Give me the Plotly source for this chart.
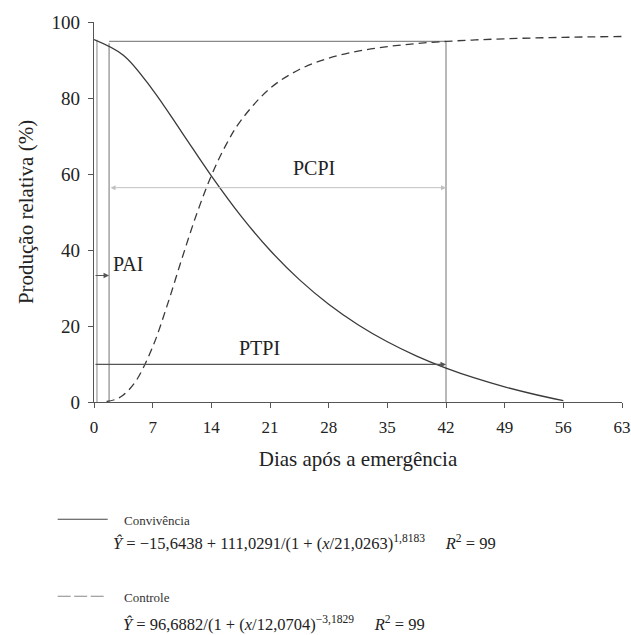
import plotly.graph_objects as go

# Convivência curve
conv_x = [0, 3.5, 7, 10.5, 14, 17.5, 21, 24.5, 28, 31.5, 35, 38.5, 42, 45.5, 49, 52.5, 56]
conv_y = [95.39, 91.28, 82.15, 70.90, 59.51, 49.05, 39.93, 32.20, 25.73, 20.34, 15.85, 12.09, 8.93, 6.26, 3.98, 2.04, 0.36]

# Controle curve
ctrl_x = [1.5, 2.5, 3.5, 5, 7, 8.75, 10.5, 12.25, 14, 15.75, 17.5, 21, 24.5, 28, 31.5, 35, 38.5, 42, 45.5, 49, 52.5, 56, 59.5, 63]
ctrl_y = [0.13, 0.64, 1.84, 5.52, 14.51, 25.55, 37.79, 49.48, 59.55, 67.67, 74.00, 82.53, 87.50, 90.47, 92.33, 93.53, 94.34, 94.89, 95.29, 95.58, 95.80, 95.96, 96.09, 96.19]

# Critical periods
pai_x = 1.8
ptpi_x = 42
level_top = 94.9
level_pcpi = 56.4
level_ptpi = 9.9
level_pai = 33.3

x_ticks = [0, 7, 14, 21, 28, 35, 42, 49, 56, 63]
y_ticks = [0, 20, 40, 60, 80, 100]

FONT = "Liberation Serif, Times New Roman, DejaVu Serif, serif"
CURVE = "#3a3a3a"
REF = "#8a8a8a"
TXT = "#222222"

fig = go.Figure()

# reference lines
fig.add_trace(go.Scatter(x=[0.35, 0.35], y=[0, 95.3], mode="lines",
                         line=dict(color="#b0b0b0", width=1.5), showlegend=False, hoverinfo="skip"))
fig.add_trace(go.Scatter(x=[pai_x, pai_x], y=[0, 94.4], mode="lines",
                         line=dict(color=REF, width=1.2), showlegend=False, hoverinfo="skip"))
fig.add_trace(go.Scatter(x=[ptpi_x, ptpi_x], y=[0, level_top], mode="lines",
                         line=dict(color=REF, width=1.2), showlegend=False, hoverinfo="skip"))
fig.add_trace(go.Scatter(x=[pai_x, ptpi_x], y=[level_top, level_top], mode="lines",
                         line=dict(color=REF, width=1.2), showlegend=False, hoverinfo="skip"))

# curves
fig.add_trace(go.Scatter(x=conv_x, y=conv_y, mode="lines", line_shape="spline",
                         line=dict(color=CURVE, width=1.3), name="Convivência", showlegend=False))
fig.add_trace(go.Scatter(x=ctrl_x, y=ctrl_y, mode="lines", line_shape="spline",
                         line=dict(color=CURVE, width=1.3, dash="8px,5px"), name="Controle", showlegend=False))

# arrows
fig.add_annotation(x=ptpi_x, y=level_ptpi, ax=0, ay=level_ptpi, xref="x", yref="y",
                   axref="x", ayref="y", text="", showarrow=True, arrowhead=2,
                   arrowsize=1, arrowwidth=1.1, arrowcolor="#555555")
fig.add_annotation(x=ptpi_x, y=level_pcpi, ax=pai_x, ay=level_pcpi, xref="x", yref="y",
                   axref="x", ayref="y", text="", showarrow=True, arrowhead=2, startarrowhead=2,
                   arrowside="end+start", arrowsize=1, arrowwidth=1, arrowcolor="#c0c0c0")
fig.add_annotation(x=pai_x, y=level_pai, ax=0, ay=level_pai, xref="x", yref="y",
                   axref="x", ayref="y", text="", showarrow=True, arrowhead=2,
                   arrowsize=1, arrowwidth=1.1, arrowcolor="#555555")

# labels
lab_font = dict(family=FONT, size=20, color=TXT)
fig.add_annotation(x=26.3, y=61.5, text="PCPI", showarrow=False, font=lab_font, xref="x", yref="y")
fig.add_annotation(x=19.7, y=14.2, text="PTPI", showarrow=False, font=lab_font, xref="x", yref="y")
fig.add_annotation(x=4.0, y=36.3, text="PAI", showarrow=False, font=lab_font, xref="x", yref="y")

# legend (custom), positions given in reference pixels relative to the plot area
PL, PW = 94.3, 527.7

def px2x(px):
    return (px - PL) / PW

def py2y(py):
    return (401.7 - py) / 380.0

fig.add_shape(type="line", xref="paper", yref="paper", x0=px2x(58), x1=px2x(108),
              y0=py2y(519), y1=py2y(519), line=dict(color="#444444", width=1.1))
fig.add_shape(type="line", xref="paper", yref="paper", x0=px2x(58), x1=px2x(104),
              y0=py2y(596), y1=py2y(596), line=dict(color="#888888", width=1.1, dash="13px,3.5px"))

small = dict(family=FONT, size=13, color="#333333")
eqf = dict(family=FONT, size=16.5, color=TXT)
fig.add_annotation(xref="paper", yref="paper", x=px2x(122), y=py2y(520), xanchor="left",
                   yanchor="middle", text="Convivência", showarrow=False, font=small)
fig.add_annotation(xref="paper", yref="paper", x=px2x(111), y=py2y(542), xanchor="left",
                   yanchor="middle",
                   text="<i>Ŷ</i> = −15,6438 + 111,0291/(1 + (<i>x</i>/21,0263)<sup>1,8183</sup>"
                        "     <i>R</i><sup>2</sup> = 99",
                   showarrow=False, font=eqf)
fig.add_annotation(xref="paper", yref="paper", x=px2x(122), y=py2y(597), xanchor="left",
                   yanchor="middle", text="Controle", showarrow=False, font=small)
fig.add_annotation(xref="paper", yref="paper", x=px2x(121), y=py2y(623), xanchor="left",
                   yanchor="middle",
                   text="<i>Ŷ</i> = 96,6882/(1 + (<i>x</i>/12,0704)<sup>−3,1829</sup>"
                        "     <i>R</i><sup>2</sup> = 99",
                   showarrow=False, font=eqf)

axis_common = dict(showgrid=False, zeroline=False, showline=True, linecolor="#555555",
                   linewidth=1.2, ticks="outside", ticklen=5, tickcolor="#555555",
                   ticklabeloverflow="allow", automargin=False)

fig.update_xaxes(range=[0, 63], tickvals=x_ticks, ticktext=[str(v) for v in x_ticks],
                 tickfont=dict(family=FONT, size=17, color=TXT), ticklabelstandoff=4,
                 title=dict(text="Dias após a emergência", font=dict(family=FONT, size=21, color=TXT),
                            standoff=15),
                 **axis_common)
fig.update_yaxes(range=[0, 100], tickvals=y_ticks, ticktext=[str(v) for v in y_ticks],
                 tickfont=dict(family=FONT, size=19, color=TXT), ticklabelstandoff=4,
                 title=dict(text="Produção relativa (%)", font=dict(family=FONT, size=21, color=TXT),
                            standoff=12),
                 **axis_common)

fig.update_layout(width=631, height=635, margin=dict(l=94, r=9, t=22, b=233),
                  plot_bgcolor="white", paper_bgcolor="white", showlegend=False)

# remove the page's default body margin and scrollbars so the figure fills the window
fig.write_html("out.html",
               config={"displayModeBar": False},
               post_script="document.documentElement.style.overflow='hidden';"
                           "document.body.style.margin='0';document.body.style.overflow='hidden';")
